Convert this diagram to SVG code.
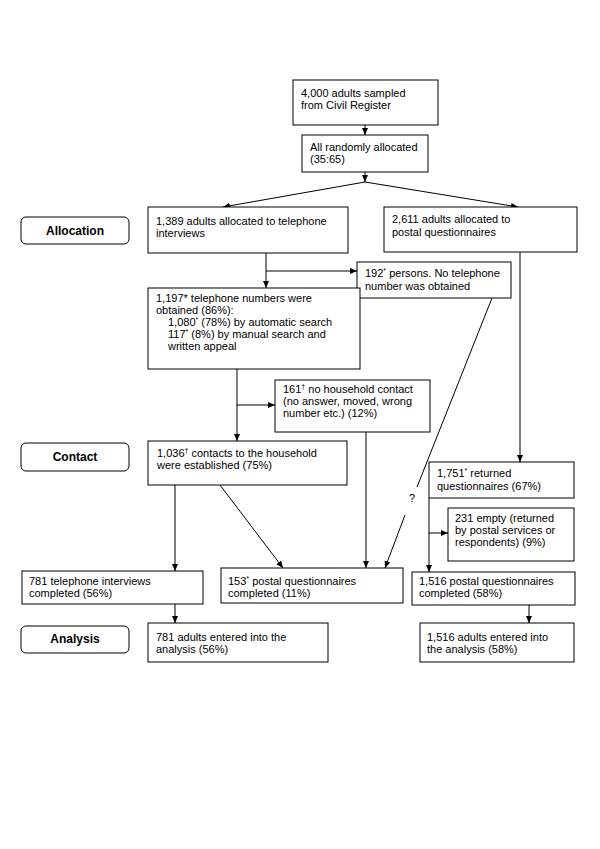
<svg xmlns="http://www.w3.org/2000/svg" width="600" height="849" viewBox="0 0 600 849">
<style>
.b{fill:#fff;stroke:#000;stroke-width:1}
.r{fill:#fff;stroke:#000;stroke-width:1}
text{font-family:"Liberation Sans",Arial,sans-serif;font-size:11px;fill:#000}
.h{font-weight:bold;font-size:12px;text-anchor:middle}
.c{fill:none;stroke:#000;stroke-width:1}
.s{font-size:7px}
</style>
<defs>
<marker id="a" markerWidth="8" markerHeight="8" refX="7" refY="4" orient="auto" markerUnits="userSpaceOnUse">
<path d="M0,1 L7,4 L0,7 Z" fill="#000"/>
</marker>
</defs>
<rect width="600" height="849" fill="#fff"/>
<g id="connectors">
<line class="c" x1="365" y1="125" x2="365" y2="135" marker-end="url(#a)"/>
<line class="c" x1="365" y1="172" x2="365" y2="182" marker-end="url(#a)"/>
<line class="c" x1="365" y1="182" x2="223" y2="207" marker-end="url(#a)"/>
<line class="c" x1="365" y1="182" x2="518" y2="207" marker-end="url(#a)"/>
<line class="c" x1="266" y1="253" x2="266" y2="288" marker-end="url(#a)"/>
<line class="c" x1="266" y1="271" x2="357" y2="271" marker-end="url(#a)"/>
<line class="c" x1="237" y1="369" x2="237" y2="441" marker-end="url(#a)"/>
<line class="c" x1="237" y1="405" x2="275" y2="405" marker-end="url(#a)"/>
<line class="c" x1="175" y1="485" x2="175" y2="571" marker-end="url(#a)"/>
<line class="c" x1="220" y1="485" x2="283" y2="568" marker-end="url(#a)"/>
<line class="c" x1="366" y1="432" x2="366" y2="568" marker-end="url(#a)"/>
<line class="c" x1="492" y1="298" x2="417" y2="487"/>
<line class="c" x1="405" y1="515" x2="385" y2="568" marker-end="url(#a)"/>
<text x="412" y="502" text-anchor="middle">?</text>
<line class="c" x1="520" y1="252" x2="520" y2="462" marker-end="url(#a)"/>
<line class="c" x1="429" y1="498" x2="429" y2="572" marker-end="url(#a)"/>
<line class="c" x1="429" y1="533" x2="448" y2="533" marker-end="url(#a)"/>
<line class="c" x1="175" y1="604" x2="175" y2="623" marker-end="url(#a)"/>
<line class="c" x1="529" y1="605" x2="529" y2="623" marker-end="url(#a)"/>
</g>
<g id="sampled">
<rect class="b" x="293" y="80" width="145" height="45"/>
<text x="301" y="97">4,000 adults sampled</text>
<text x="301" y="109">from Civil Register</text>
</g>
<g id="randomly">
<rect class="b" x="302" y="135" width="126" height="37"/>
<text x="310" y="151">All randomly allocated</text>
<text x="310" y="163">(35:65)</text>
</g>
<g id="label-allocation">
<rect class="r" x="21" y="217" width="108" height="27" rx="5"/>
<text class="h" x="75" y="235">Allocation</text>
</g>
<g id="tel-alloc">
<rect class="b" x="148" y="207" width="200" height="46"/>
<text x="156" y="225">1,389 adults allocated to telephone</text>
<text x="156" y="237">interviews</text>
</g>
<g id="postal-alloc">
<rect class="b" x="384" y="207" width="193" height="45"/>
<text x="392" y="223">2,611 adults allocated to</text>
<text x="392" y="236">postal questionnaires</text>
</g>
<g id="no-number">
<rect class="b" x="357" y="262" width="154" height="36"/>
<text x="365" y="277">192<tspan class="s" dy="-4">*</tspan><tspan dy="4"> persons. No telephone</tspan></text>
<text x="365" y="290">number was obtained</text>
</g>
<g id="numbers">
<rect class="b" x="148" y="288" width="212" height="81"/>
<text x="156" y="302">1,197* telephone numbers were</text>
<text x="156" y="314">obtained (86%):</text>
<text x="168" y="326">1,080<tspan class="s" dy="-4">*</tspan><tspan dy="4"> (78%) by automatic search</tspan></text>
<text x="168" y="338">117<tspan class="s" dy="-4">*</tspan><tspan dy="4"> (8%) by manual search and</tspan></text>
<text x="168" y="350">written appeal</text>
</g>
<g id="no-contact">
<rect class="b" x="275" y="380" width="155" height="52"/>
<text x="283" y="393">161<tspan class="s" dy="-4">†</tspan><tspan dy="4"> no household contact</tspan></text>
<text x="283" y="405">(no answer, moved, wrong</text>
<text x="283" y="417">number etc.) (12%)</text>
</g>
<g id="label-contact">
<rect class="r" x="21" y="443" width="108" height="28" rx="5"/>
<text class="h" x="75" y="461">Contact</text>
</g>
<g id="contacts">
<rect class="b" x="148" y="441" width="199" height="44"/>
<text x="157" y="457">1,036<tspan class="s" dy="-4">†</tspan><tspan dy="4"> contacts to the household</tspan></text>
<text x="157" y="469">were established (75%)</text>
</g>
<g id="returned">
<rect class="b" x="429" y="462" width="145" height="36"/>
<text x="437" y="477">1,751<tspan class="s" dy="-4">*</tspan><tspan dy="4"> returned</tspan></text>
<text x="437" y="490">questionnaires (67%)</text>
</g>
<g id="empty">
<rect class="b" x="448" y="508" width="126" height="53"/>
<text x="455" y="522">231 empty (returned</text>
<text x="455" y="534">by postal services or</text>
<text x="455" y="546">respondents) (9%)</text>
</g>
<g id="tel-completed">
<rect class="b" x="22" y="571" width="181" height="33"/>
<text x="29" y="585">781 telephone interviews</text>
<text x="29" y="597">completed (56%)</text>
</g>
<g id="postal-153">
<rect class="b" x="221" y="568" width="182" height="35"/>
<text x="228" y="585">153<tspan class="s" dy="-4">*</tspan><tspan dy="4"> postal questionnaires</tspan></text>
<text x="228" y="597">completed (11%)</text>
</g>
<g id="postal-completed">
<rect class="b" x="412" y="572" width="163" height="33"/>
<text x="419" y="585">1,516 postal questionnaires</text>
<text x="419" y="597">completed (58%)</text>
</g>
<g id="label-analysis">
<rect class="r" x="21" y="626" width="108" height="27" rx="5"/>
<text class="h" x="75" y="643">Analysis</text>
</g>
<g id="tel-analysis">
<rect class="b" x="148" y="623" width="180" height="39"/>
<text x="156" y="641">781 adults entered into the</text>
<text x="156" y="653">analysis (56%)</text>
</g>
<g id="postal-analysis">
<rect class="b" x="420" y="623" width="154" height="39"/>
<text x="427" y="641">1,516 adults entered into</text>
<text x="427" y="653">the analysis (58%)</text>
</g>
</svg>
